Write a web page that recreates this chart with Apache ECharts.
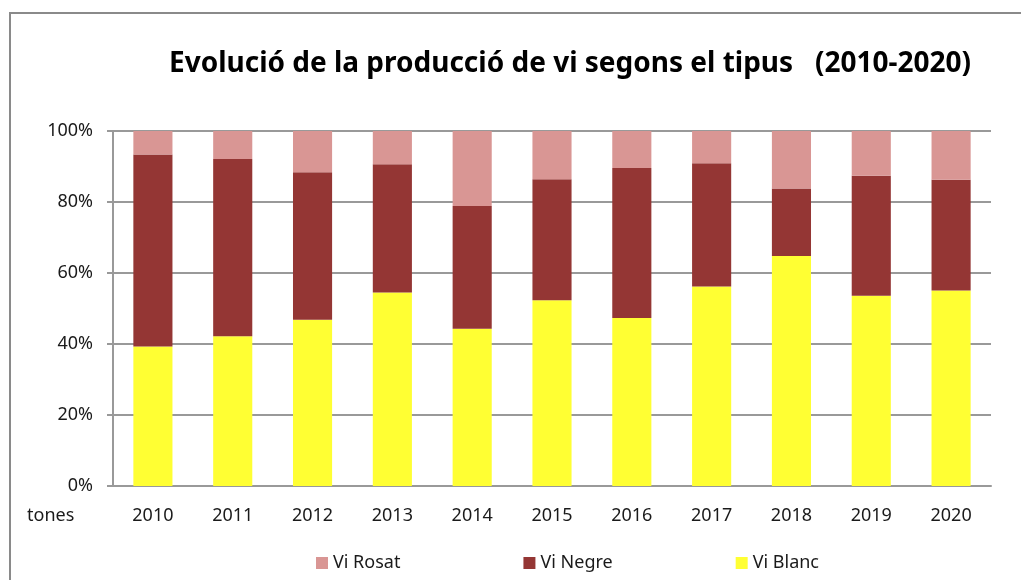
<!DOCTYPE html>
<html>
<head>
<meta charset="utf-8">
<script src="https://cdn.jsdelivr.net/npm/echarts@6/dist/echarts.min.js"></script>
<style>
  html, body { margin: 0; padding: 0; background: #fff; }
  #chart { width: 1021px; height: 580px; }
</style>
</head>
<body>
<div id="chart"></div>
<script>
const years = ['2010', '2011', '2012', '2013', '2014', '2015', '2016', '2017', '2018', '2019', '2020'];
// percentatges per tipus (llegits del gràfic)
const viBlanc = [39.3, 42.2, 46.8, 54.5, 44.3, 52.3, 47.3, 56.2, 64.8, 53.6, 55.1];
const viNegre = [54.1, 49.9, 41.6, 36.1, 34.6, 34.1, 42.3, 34.7, 19.0, 33.8, 31.2];
const viRosat = [6.6, 7.9, 11.6, 9.4, 21.1, 13.6, 10.4, 9.1, 16.2, 12.6, 13.7];

const font = 'Noto Sans';
const chart = echarts.init(document.getElementById('chart'));

chart.setOption({
  animation: false,
  textStyle: { fontFamily: font },
  title: {
    text: 'Evolució de la producció de vi segons el tipus   (2010-2020)',
    left: 565,
    top: 45,
    textAlign: 'center',
    textStyle: { fontFamily: font, fontSize: 28, fontWeight: 'bold', color: '#000' }
  },
  graphic: [
    {
      type: 'rect',
      shape: { x: 10, y: 13, width: 1100, height: 700 },
      style: { fill: 'none', stroke: '#8a8a8a', lineWidth: 2 },
      silent: true
    },
    {
      type: 'text',
      left: 27,
      top: 507,
      style: { text: 'tones', fontFamily: font, fontSize: 18, fill: '#1a1a1a' }
    }
  ],
  legend: {
    data: ['Vi Rosat', 'Vi Negre', 'Vi Blanc'],
    left: 311,
    top: 549,
    icon: 'rect',
    itemWidth: 12,
    itemHeight: 12,
    itemGap: 123,
    textStyle: { fontFamily: font, fontSize: 18, color: '#1a1a1a' }
  },
  grid: { left: 113, right: 30, top: 131, bottom: 94 },
  xAxis: {
    type: 'category',
    data: years,
    axisLine: { lineStyle: { color: '#999', width: 2 } },
    axisTick: { show: false },
    axisLabel: { fontSize: 18, color: '#1a1a1a', margin: 21 }
  },
  yAxis: {
    type: 'value',
    min: 0,
    max: 100,
    interval: 20,
    axisLine: { show: true, lineStyle: { color: '#999', width: 2 } },
    axisTick: { show: true, length: 6, lineStyle: { color: '#999', width: 2 } },
    splitLine: { lineStyle: { color: '#999', width: 2 } },
    axisLabel: { fontSize: 18, color: '#1a1a1a', margin: 20, formatter: '{value}%' }
  },
  series: [
    {
      name: 'Vi Blanc', type: 'bar', stack: 'total', data: viBlanc,
      barWidth: '49%', itemStyle: { color: '#ffff33' }
    },
    {
      name: 'Vi Negre', type: 'bar', stack: 'total', data: viNegre,
      barWidth: '49%', itemStyle: { color: '#943634' }
    },
    {
      name: 'Vi Rosat', type: 'bar', stack: 'total', data: viRosat,
      barWidth: '49%', itemStyle: { color: '#d99694' }
    }
  ]
});
</script>
</body>
</html>
